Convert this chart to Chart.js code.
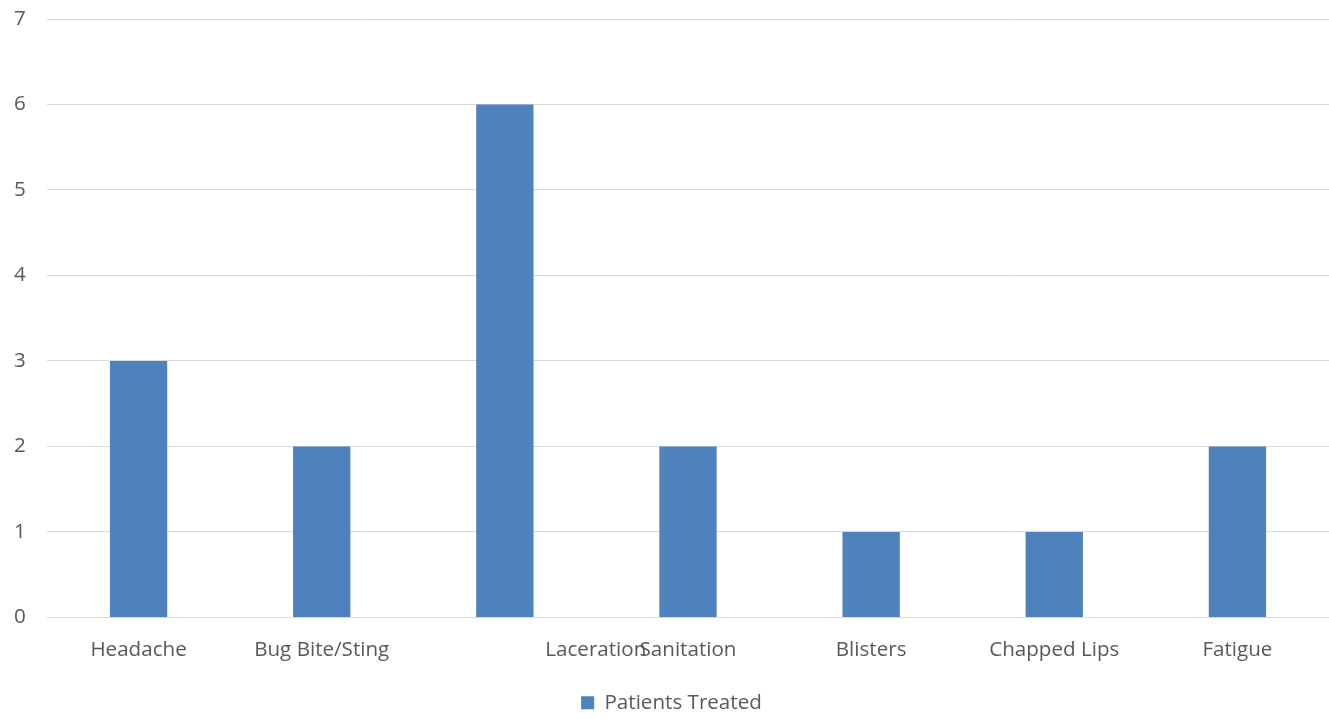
<!DOCTYPE html>
<html>
<head>
<meta charset="utf-8">
<script src="https://cdn.jsdelivr.net/npm/chart.js@4"></script>
<style>
html,body{margin:0;padding:0;background:#fff;}
#wrap{width:1329px;height:719px;position:relative;}
</style>
</head>
<body>
<div id="wrap"><canvas id="c" width="1329" height="719"></canvas></div>
<script>
const categories = ["Headache", "Bug Bite/Sting", "Laceration", "Sanitation", "Blisters", "Chapped Lips", "Fatigue"];
const patientsTreated = [3, 2, 6, 2, 1, 1, 2];
const seriesName = "Patients Treated";
const yTicks = [0, 1, 2, 3, 4, 5, 6, 7];

// In the reference the "Laceration" label is drawn shifted to the right, overlapping "Sanitation".
const shiftedLabel = "Laceration";
const displayLabels = categories.map(c => c === shiftedLabel ? " ".repeat(34) + c : c);

const FONT = "'Open Sans', sans-serif";
const TEXT = "#595959";
const FS = 20.6;

new Chart(document.getElementById('c'), {
  type: 'bar',
  data: {
    labels: displayLabels,
    datasets: [{
      label: seriesName,
      data: patientsTreated,
      backgroundColor: '#4F81BD',
      borderWidth: 0,
      categoryPercentage: 1,
      barPercentage: 0.313
    }]
  },
  options: {
    responsive: false,
    animation: false,
    layout: { padding: { top: 19, right: 0, left: 14, bottom: -4 } },
    plugins: {
      legend: {
        position: 'bottom',
        labels: {
          font: { family: FONT, size: FS },
          color: TEXT,
          boxWidth: 13,
          boxHeight: 13,
          padding: 0
        }
      },
      tooltip: { enabled: false }
    },
    scales: {
      x: {
        afterFit: s => { s.height = 75; },
        grid: { display: false, drawTicks: false },
        border: { display: false },
        ticks: {
          font: { family: FONT, size: FS },
          color: TEXT,
          maxRotation: 0,
          autoSkip: false,
          padding: 20
        }
      },
      y: {
        min: 0,
        max: 7,
        afterFit: s => { s.width = 33; },
        afterBuildTicks: s => { s.ticks = yTicks.map(v => ({ value: v })); },
        grid: { color: '#D9D9D9', lineWidth: 1, drawTicks: false },
        border: { display: false },
        ticks: {
          font: { family: FONT, size: FS },
          color: TEXT,
          padding: 0,
          crossAlign: 'far'
        }
      }
    }
  }
});
</script>
</body>
</html>
